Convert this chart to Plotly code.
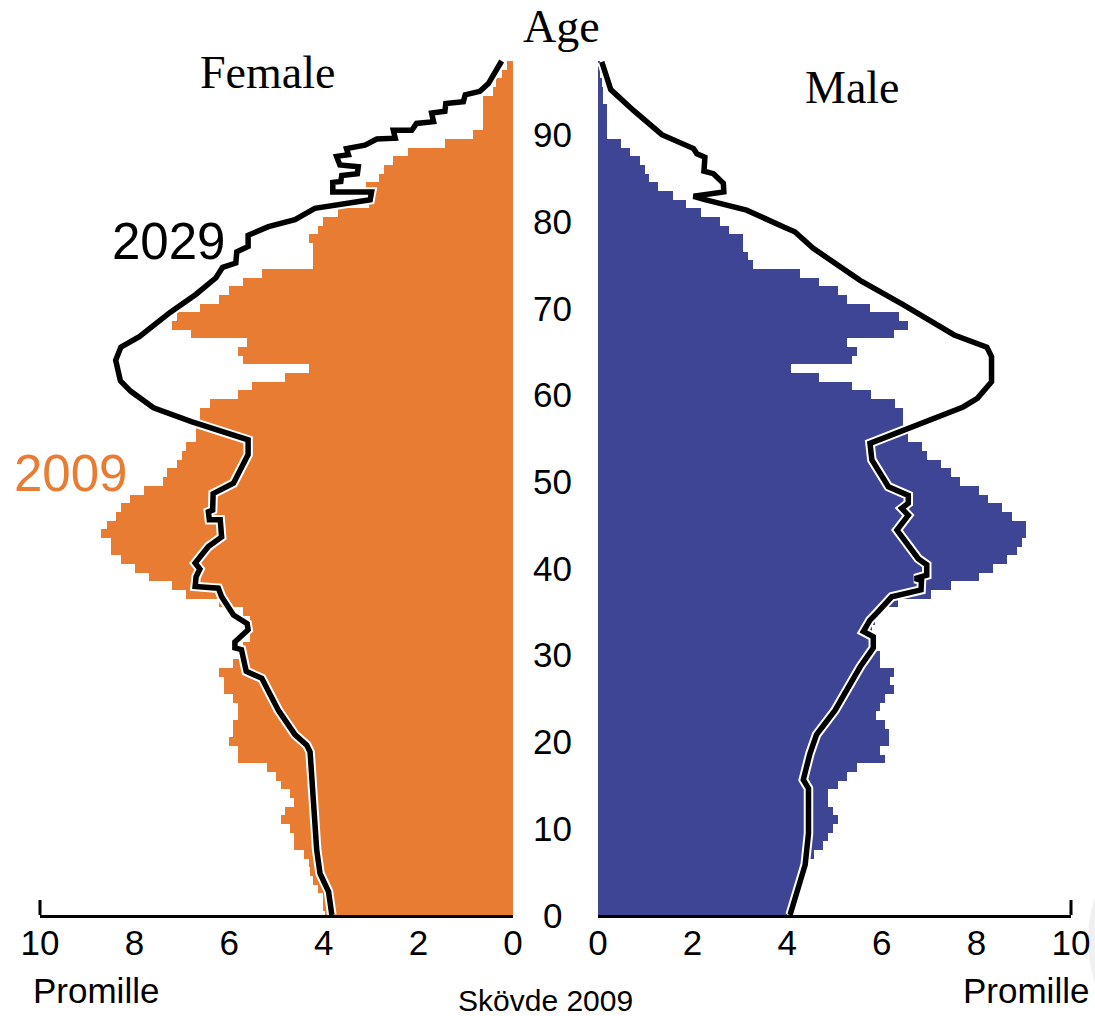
import plotly.graph_objects as go

# ---- population shares per single year of age (per mille), Skövde ----
ages = list(range(0, 99))

female_2009 = [
    3.98, 4.02, 4.02, 4.12, 4.22, 4.29, 4.31, 4.41, 4.62, 4.62,
    4.71, 4.90, 4.81, 4.62, 4.71, 4.90, 5.01, 5.21, 5.81, 5.81,
    6.01, 5.91, 5.91, 5.81, 5.81, 5.91, 6.11, 6.11, 6.21, 5.91,
    5.71, 5.71, 5.55, 5.51, 5.55, 5.71, 6.22, 6.91, 7.20, 7.70,
    7.99, 8.29, 8.50, 8.50, 8.70, 8.59, 8.40, 8.29, 8.10, 7.80,
    7.39, 7.31, 7.11, 7.00, 6.91, 6.70, 6.70, 6.62, 6.62, 6.41,
    5.81, 5.51, 4.81, 4.31, 5.71, 5.81, 5.62, 6.81, 7.21, 7.11,
    6.62, 6.21, 6.01, 5.71, 5.31, 4.22, 4.22, 4.22, 4.31, 4.12,
    4.02, 3.71, 3.05, 2.99, 3.11, 2.83, 2.73, 2.53, 2.23, 1.44,
    0.84, 0.63, 0.63, 0.63, 0.63, 0.43, 0.35, 0.24, 0.13,
]

male_2009 = [
    4.00, 4.10, 4.15, 4.20, 4.35, 4.40, 4.45, 4.57, 4.76, 4.87,
    4.97, 5.07, 4.97, 4.87, 4.87, 5.07, 5.27, 5.47, 6.07, 5.96,
    6.16, 6.16, 6.07, 5.87, 5.96, 6.07, 6.26, 6.17, 6.26, 5.96,
    5.96, 5.85, 5.80, 5.80, 5.85, 5.96, 6.35, 7.05, 7.46, 8.05,
    8.36, 8.65, 8.85, 8.96, 9.05, 9.05, 8.76, 8.55, 8.25, 8.05,
    7.65, 7.46, 7.26, 6.96, 6.86, 6.56, 6.56, 6.45, 6.45, 6.27,
    5.77, 5.37, 4.67, 4.08, 5.37, 5.47, 5.27, 6.26, 6.56, 6.36,
    5.76, 5.26, 5.07, 4.67, 4.27, 3.28, 3.18, 3.07, 3.07, 2.78,
    2.58, 2.18, 1.87, 1.58, 1.27, 1.08, 0.99, 0.88, 0.68, 0.49,
    0.18, 0.18, 0.18, 0.18, 0.10, 0.10, 0.08, 0.05, 0.05,
]

# 2029 projection, outline vertices (age, per mille)
female_2029_age = [
    98.5, 96.9, 95.9, 95.0, 94.6, 93.8, 93.6, 92.7, 92.5, 91.5,
    91.3, 90.5, 90.5, 89.6, 89.5, 88.8, 88.4, 87.7, 87.5, 86.5,
    86.3, 85.5, 85.3, 84.6, 84.5, 83.4, 83.4, 82.5, 81.5, 80.2,
    79.4, 78.4, 77.1, 76.5, 75.2, 74.7, 73.5, 71.6, 69.5, 66.7,
    65.5, 64.0, 61.6, 60.4, 58.5, 56.9, 55.9, 54.8, 53.1, 49.8,
    48.6, 46.7, 46.5, 45.6, 45.6, 43.6, 42.5, 40.6, 39.9, 39.0,
    37.9, 37.7, 36.7, 34.6, 33.6, 32.9, 31.5, 30.8, 30.6, 28.1,
    27.3, 23.6, 20.8, 19.6, 18.8, 12.5, 7.5, 4.8, 2.7, 0.0,
]
female_2029_val = [
    0.24, 0.42, 0.52, 0.70, 1.01, 1.05, 1.42, 1.44, 1.72, 1.68,
    2.04, 2.14, 2.53, 2.49, 2.88, 3.13, 3.52, 3.48, 3.73, 3.66,
    3.27, 3.29, 3.62, 3.64, 3.81, 3.81, 2.99, 3.02, 4.19, 4.61,
    5.17, 5.60, 5.60, 5.84, 5.86, 6.14, 6.28, 6.70, 7.25, 7.90,
    8.29, 8.40, 8.30, 8.08, 7.60, 6.80, 6.19, 5.60, 5.60, 5.91,
    6.34, 6.35, 6.44, 6.42, 6.19, 6.16, 6.44, 6.72, 6.62, 6.70,
    6.72, 6.23, 6.16, 5.91, 5.62, 5.60, 5.88, 5.88, 5.74, 5.64,
    5.31, 4.96, 4.61, 4.36, 4.29, 4.22, 4.15, 4.08, 3.90, 3.83,
]

male_2029_age = [
    98.4, 97.1, 95.2, 92.8, 90.0, 88.4, 87.8, 87.4, 85.8, 85.5,
    84.4, 83.4, 82.9, 82.5, 81.3, 79.3, 78.8, 76.9, 73.2, 70.4,
    66.9, 65.5, 64.4, 61.5, 59.6, 58.6, 56.3, 54.4, 52.5, 49.4,
    48.4, 47.5, 46.9, 46.1, 44.4, 41.1, 40.4, 39.2, 38.8, 38.6,
    37.5, 36.7, 34.8, 34.0, 32.7, 32.1, 30.8, 28.6, 23.6, 20.8,
    18.6, 15.6, 14.6, 9.4, 5.8, 2.9, 0.0,
]
male_2029_val = [
    0.08, 0.15, 0.27, 0.75, 1.35, 2.02, 2.09, 2.26, 2.24, 2.44,
    2.65, 2.66, 2.02, 2.26, 3.14, 3.95, 4.16, 4.55, 5.54, 6.45,
    7.53, 8.22, 8.32, 8.32, 8.02, 7.72, 6.64, 5.75, 5.79, 6.14,
    6.56, 6.56, 6.42, 6.56, 6.32, 6.77, 6.95, 6.95, 6.70, 6.84,
    6.83, 6.21, 5.89, 5.75, 5.61, 5.82, 5.82, 5.54, 5.01, 4.62,
    4.48, 4.34, 4.45, 4.45, 4.38, 4.23, 4.06,
]

x_ticks = [0, 2, 4, 6, 8, 10]
age_ticks = [0, 10, 20, 30, 40, 50, 60, 70, 80, 90]

ORANGE = "#e97c33"
BLUE = "#3e4594"
SANS = "Liberation Sans, Arial, sans-serif"
SERIF = "Liberation Serif, Times New Roman, serif"

W, H = 1095, 1016
left_dom = [40 / W, 513 / W]
right_dom = [598 / W, 1071 / W]
y_dom = [(H - 915) / H, (H - 48) / H]

fig = go.Figure()

fig.add_trace(go.Bar(x=female_2009, y=ages, orientation="h", width=1,
                     marker=dict(color=ORANGE, line=dict(width=0)),
                     xaxis="x", yaxis="y", hoverinfo="skip"))
fig.add_trace(go.Bar(x=male_2009, y=ages, orientation="h", width=1,
                     marker=dict(color=BLUE, line=dict(width=0)),
                     xaxis="x2", yaxis="y2", hoverinfo="skip"))

# 2029 outline: white halo under a black stroke
for xs, ys, xa, ya in [(female_2029_val, female_2029_age, "x", "y"),
                       (male_2029_val, male_2029_age, "x2", "y2")]:
    fig.add_trace(go.Scatter(x=xs, y=ys, mode="lines", xaxis=xa, yaxis=ya,
                             line=dict(color="white", width=9.5),
                             hoverinfo="skip"))
    fig.add_trace(go.Scatter(x=xs, y=ys, mode="lines", xaxis=xa, yaxis=ya,
                             line=dict(color="black", width=5.5),
                             hoverinfo="skip"))

axis_common = dict(showgrid=False, zeroline=False, showline=True,
                   linecolor="black", linewidth=3, ticks="",
                   tickvals=x_ticks, ticktext=[str(t) for t in x_ticks],
                   tickfont=dict(family=SANS, size=35, color="black"),
                   ticklabelstandoff=-5, automargin=False, fixedrange=True)

fig.update_layout(
    width=W, height=H,
    margin=dict(l=0, r=0, t=0, b=0, autoexpand=False),
    paper_bgcolor="white", plot_bgcolor="white",
    showlegend=False, bargap=0,
    xaxis=dict(domain=left_dom, range=[10, 0], anchor="y", **axis_common),
    xaxis2=dict(domain=right_dom, range=[0, 10], anchor="y2", **axis_common),
    yaxis=dict(domain=y_dom, range=[0, 100], anchor="x", visible=False,
               automargin=False),
    yaxis2=dict(domain=y_dom, range=[0, 100], anchor="x2", matches="y",
                visible=False, automargin=False),
)

tick_h = 15 / H
shapes = [
    dict(type="line", xref="paper", yref="paper",
         x0=left_dom[0], x1=left_dom[0], y0=y_dom[0], y1=y_dom[0] + tick_h,
         line=dict(color="black", width=3)),
    dict(type="line", xref="paper", yref="paper",
         x0=right_dom[1], x1=right_dom[1], y0=y_dom[0], y1=y_dom[0] + tick_h,
         line=dict(color="black", width=3)),
    dict(type="circle", xref="paper", yref="paper", layer="below",
         x0=1088 / W, x1=1300 / W, y0=(H - 1060) / H, y1=(H - 820) / H,
         fillcolor="#f0f0f0", line=dict(width=0)),
]
fig.update_layout(shapes=shapes)

annotations = []
for t in age_ticks:
    annotations.append(dict(x=552 / W, xref="paper", y=t, yref="y",
                            text=str(t), showarrow=False,
                            xanchor="center", yanchor="middle",
                            font=dict(family=SANS, size=35, color="black")))


def label(text, x, y, family, size, color="black"):
    annotations.append(dict(x=x / W, y=(H - y) / H, xref="paper", yref="paper",
                            text=text, showarrow=False,
                            xanchor="center", yanchor="middle",
                            font=dict(family=family, size=size, color=color)))


label("Age", 561, 27, SERIF, 46)
label("Female", 267, 73, SERIF, 46)
label("Male", 852, 88, SERIF, 46)
label("2029", 168, 241, SANS, 51)
label("2009", 70, 474, SANS, 51, ORANGE)
label("Promille", 96, 990, SANS, 35)
label("Promille", 1026, 990, SANS, 35)
label("Skövde 2009", 545, 1000, SANS, 30)

fig.update_layout(annotations=annotations)

fig.write_html("out.html")
